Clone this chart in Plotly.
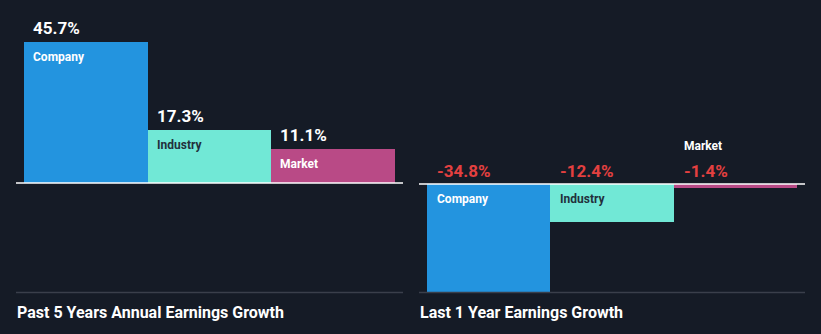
import plotly.graph_objects as go

categories = ["Company", "Industry", "Market"]
past_5y_growth = [45.7, 17.3, 11.1]
last_1y_growth = [-34.8, -12.4, -1.4]
bar_colors = ["#2394df", "#71e8d6", "#b94a86"]
label_colors = ["#ffffff", "#22303c", "#ffffff"]
panel_titles = ["Past 5 Years Annual Earnings Growth", "Last 1 Year Earnings Growth"]

W, H = 821, 334
BG = "#151b26"

fig = go.Figure()
xs = [0, 1, 2]
fig.add_trace(go.Bar(x=xs, y=past_5y_growth, marker=dict(color=bar_colors, line=dict(width=0)),
                     width=1.0, xaxis="x", yaxis="y", hoverinfo="skip"))
fig.add_trace(go.Bar(x=xs, y=last_1y_growth, marker=dict(color=bar_colors, line=dict(width=0)),
                     width=1.0, xaxis="x2", yaxis="y2", hoverinfo="skip"))

def px(v):
    return v / W

def py(v):
    return 1 - v / H

ax_common = dict(showgrid=False, zeroline=False, showticklabels=False, fixedrange=True,
                 range=[-0.5, 2.5])
fig.update_layout(
    width=W, height=H,
    margin=dict(l=0, r=0, t=0, b=0),
    paper_bgcolor=BG, plot_bgcolor=BG,
    showlegend=False, bargap=0,
    font=dict(family="Roboto, sans-serif"),
    xaxis=dict(domain=[px(24), px(395)], anchor="y", **ax_common),
    xaxis2=dict(domain=[px(427), px(797)], anchor="y2", **ax_common),
    yaxis=dict(domain=[0, 1], range=[-(H - 183) / 3.085, 183 / 3.085], visible=False, fixedrange=True),
    yaxis2=dict(domain=[0, 1], range=[-(H - 184) / 3.1, 184 / 3.1], visible=False, fixedrange=True, anchor="x2"),
)

shapes = []
# zero lines
shapes.append(dict(type="line", xref="paper", yref="y", x0=px(16), x1=px(403), y0=0, y1=0,
                   line=dict(color="#ffffff", width=1.5)))
shapes.append(dict(type="line", xref="paper", yref="y2", x0=px(419), x1=px(805), y0=0, y1=0,
                   line=dict(color="#ffffff", width=1.5)))
# bottom separator lines
for a, b in [(16, 403), (419, 805)]:
    shapes.append(dict(type="line", xref="paper", yref="paper", x0=px(a), x1=px(b),
                       y0=py(292.5), y1=py(292.5), line=dict(color="#3a3f4b", width=1.5)))
fig.update_layout(shapes=shapes)

ann = []
for i, (c, v) in enumerate(zip(categories, past_5y_growth)):
    ann.append(dict(x=i - 0.5, y=v, xref="x", yref="y", xanchor="left", yanchor="middle",
                    xshift=7, yshift=14, showarrow=False, text=f"{v:.1f}%",
                    font=dict(size=17, color="#ffffff", weight="bold")))
    ann.append(dict(x=i - 0.5, y=v, xref="x", yref="y", xanchor="left", yanchor="middle",
                    xshift=7, yshift=-15, showarrow=False, text=c,
                    font=dict(size=12, color=label_colors[i], weight="bold")))
for i, (c, v) in enumerate(zip(categories, last_1y_growth)):
    ann.append(dict(x=i - 0.5, y=0, xref="x2", yref="y2", xanchor="left", yanchor="middle",
                    xshift=8, yshift=13.5, showarrow=False, text=f"{v:.1f}%",
                    font=dict(size=17, color="#e34040", weight="bold")))
    bar_px = abs(v) * 3.1
    if bar_px > 25:
        ann.append(dict(x=i - 0.5, y=0, xref="x2", yref="y2", xanchor="left", yanchor="middle",
                        xshift=8, yshift=-15, showarrow=False, text=c,
                        font=dict(size=12, color=label_colors[i], weight="bold")))
    else:
        ann.append(dict(x=i - 0.5, y=0, xref="x2", yref="y2", xanchor="left", yanchor="middle",
                        xshift=8, yshift=38, showarrow=False, text=c,
                        font=dict(size=12, color="#ffffff", weight="bold")))
for t, x0 in zip(panel_titles, [16, 419]):
    ann.append(dict(x=px(x0 - 1), y=py(312), xref="paper", yref="paper", xanchor="left", yanchor="middle",
                    showarrow=False, text=t,
                    font=dict(size=16, color="#ffffff", weight="bold", family="Roboto, sans-serif")))
fig.update_layout(annotations=ann)

fig.write_html("out.html")
